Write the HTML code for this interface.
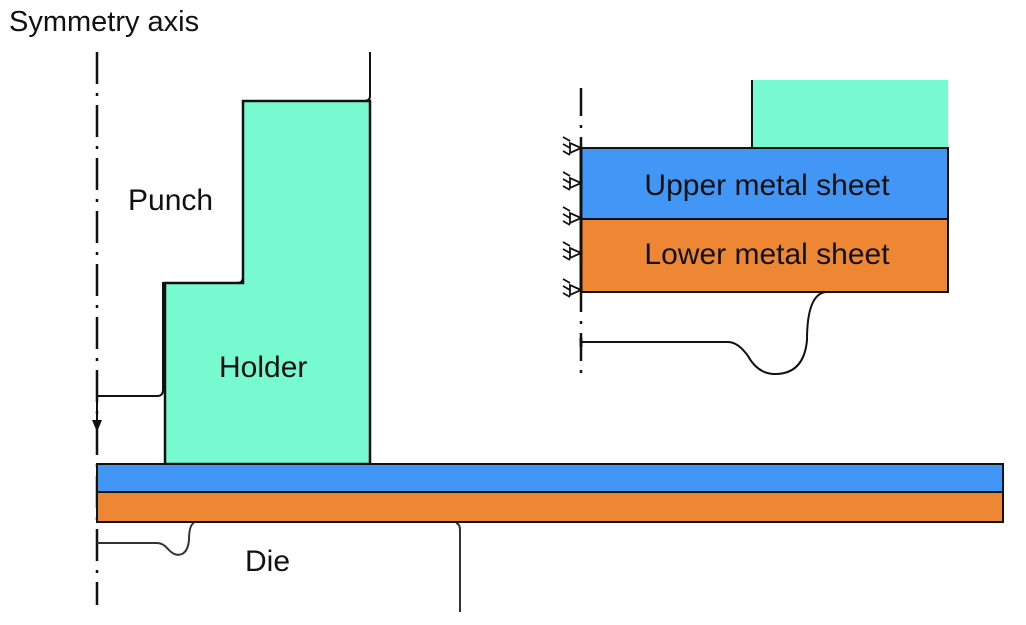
<!DOCTYPE html>
<html><head><meta charset="utf-8"><style>
body{margin:0;background:#fff;}
svg text{font-family:"Liberation Sans",sans-serif;fill:#111;}
</style></head><body>
<svg width="1026" height="620" viewBox="0 0 1026 620" xmlns="http://www.w3.org/2000/svg">
<text x="9" y="31" font-size="29">Symmetry axis</text>
<!-- main axis -->
<line x1="97" y1="52" x2="97" y2="605" stroke="#111" stroke-width="2.5" stroke-dasharray="32,9,3,9"/>
<!-- holder -->
<polygon points="243,101 370,101 370,464 165,464 165,283 243,283" fill="#78fad0" stroke="#111" stroke-width="2.5"/>
<!-- punch outline -->
<path d="M370,52 V96 Q370,101 364,101 H243 V277 Q243,283 237,283 H163 V390 Q163,396 157,396 H97 V428" fill="none" stroke="#111" stroke-width="2"/>
<polygon points="92,420 102,420 97,432" fill="#111"/>
<!-- sheets -->
<rect x="97" y="464" width="906" height="28" fill="#4296f5" stroke="#111" stroke-width="2"/>
<rect x="97" y="492" width="906" height="30" fill="#ee8733" stroke="#111" stroke-width="2"/>
<!-- die -->
<path d="M97,543 H157 Q163,543 168,549 Q175,557 182,554 Q188,551 189,540 Q189,525 194,523" fill="none" stroke="#333" stroke-width="2"/>
<path d="M456,523 Q460,524 460,530 V612" fill="none" stroke="#333" stroke-width="2"/>
<text x="128" y="210" font-size="30">Punch</text>
<text x="219" y="377" font-size="30">Holder</text>
<text x="245" y="571" font-size="30">Die</text>
<!-- inset -->
<line x1="581" y1="88" x2="581" y2="378" stroke="#111" stroke-width="2.5" stroke-dasharray="28,9,3,9"/>
<rect x="752" y="80" width="196" height="68" fill="#78fad0"/>
<line x1="752" y1="80" x2="752" y2="148" stroke="#111" stroke-width="2"/>
<rect x="581" y="148" width="367" height="71" fill="#4296f5" stroke="#111" stroke-width="2"/>
<rect x="581" y="219" width="367" height="73" fill="#ee8733" stroke="#111" stroke-width="2"/>
<line x1="581" y1="148" x2="581" y2="292" stroke="#111" stroke-width="3"/>
<path d="M581,342 H728 Q738,342 748,356 Q758,374 775,374 Q804,374 807,340 Q807,294 826,292" fill="none" stroke="#111" stroke-width="2"/>
<line x1="581" y1="338" x2="581" y2="347" stroke="#111" stroke-width="3"/>
<text x="767" y="195" font-size="30" text-anchor="middle">Upper metal sheet</text>
<text x="767" y="264" font-size="30" text-anchor="middle">Lower metal sheet</text>
<g stroke="#111" stroke-width="1.8" fill="none">
<g id="s"><path d="M581,148 L570,143 L570,153 Z M570,141 L563,137 M570,148 L563,144 M570,155 L563,151"/></g>
<use href="#s" y="35"/><use href="#s" y="70"/><use href="#s" y="105"/><use href="#s" y="142"/>
</g>
</svg>
</body></html>
